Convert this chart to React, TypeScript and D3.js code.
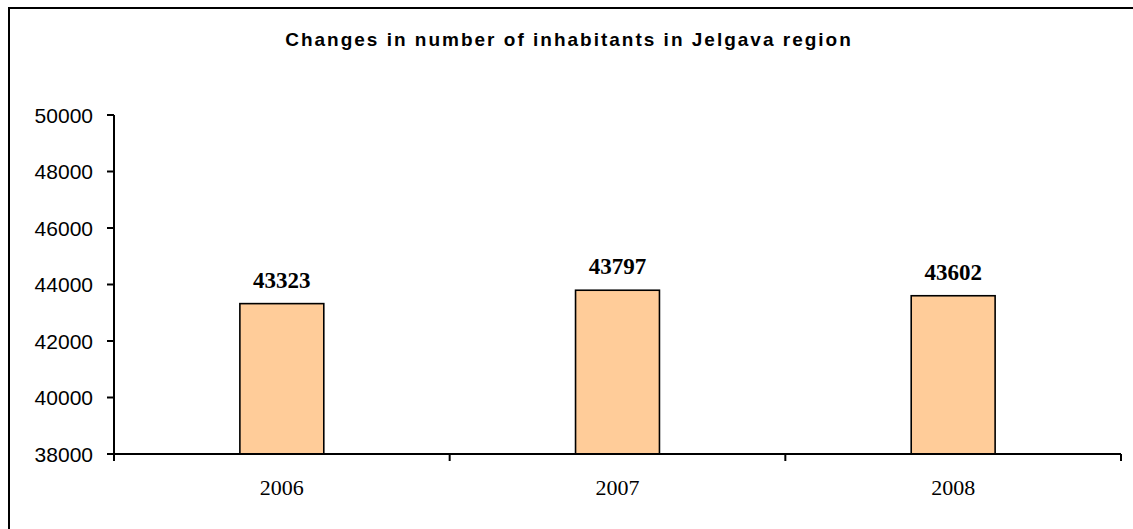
import React from "react";
import * as d3 from "d3";

const years = ["2006", "2007", "2008"];
const inhabitants = [43323, 43797, 43602];
const yTicks = [38000, 40000, 42000, 44000, 46000, 48000, 50000];
const title = "Changes in number of inhabitants in Jelgava region";

export default function App() {
  const W = 1133;
  const H = 529;
  const left = 114;
  const right = 1121;
  const top = 115;
  const bottom = 454;

  const x = d3
    .scaleBand<string>()
    .domain(years)
    .range([left, right])
    .paddingInner(0.75)
    .paddingOuter(0.375);
  const y = d3.scaleLinear().domain([38000, 50000]).range([bottom, top]);
  const step = x.step();
  const boundaries = d3.range(years.length + 1).map((i) => left + i * step);

  return (
    <svg
      width={W}
      height={H}
      style={{ position: "absolute", left: 0, top: 0, background: "#fff" }}
    >
      <rect x={9} y={8} width={1140} height={540} fill="#fff" stroke="#000" strokeWidth={2} />
      <text
        x={569}
        y={46}
        textAnchor="middle"
        fontFamily="Arial, 'Liberation Sans', sans-serif"
        fontWeight="bold"
        fontSize={19}
        letterSpacing={2}
      >
        {title}
      </text>

      {years.map((yr, i) => {
        const v = inhabitants[i];
        const bx = x(yr)!;
        const bw = x.bandwidth();
        return (
          <g key={yr}>
            <rect
              x={bx}
              y={y(v)}
              width={bw}
              height={bottom - y(v)}
              fill="#FFCC99"
              stroke="#000"
              strokeWidth={1.6}
            />
            <text
              x={bx + bw / 2}
              y={y(v) - 16}
              textAnchor="middle"
              fontFamily="'Times New Roman', 'Liberation Serif', serif"
              fontWeight="bold"
              fontSize={23}
            >
              {v}
            </text>
            <text
              x={bx + bw / 2}
              y={495}
              textAnchor="middle"
              fontFamily="'Times New Roman', 'Liberation Serif', serif"
              fontSize={22}
            >
              {yr}
            </text>
          </g>
        );
      })}

      {/* y axis */}
      <line x1={left} x2={left} y1={top} y2={bottom + 7} stroke="#000" strokeWidth={2} />
      {yTicks.map((t) => (
        <g key={t}>
          <line x1={left - 7} x2={left} y1={y(t)} y2={y(t)} stroke="#000" strokeWidth={2} />
          <text
            x={93}
            y={y(t)}
            textAnchor="end"
            dominantBaseline="central"
            fontFamily="Arial, 'Liberation Sans', sans-serif"
            fontSize={21}
          >
            {t}
          </text>
        </g>
      ))}

      {/* x axis */}
      <line x1={left} x2={right} y1={bottom} y2={bottom} stroke="#000" strokeWidth={2} />
      {boundaries.map((b, i) => (
        <line key={i} x1={b} x2={b} y1={bottom} y2={bottom + 7} stroke="#000" strokeWidth={2} />
      ))}
    </svg>
  );
}
